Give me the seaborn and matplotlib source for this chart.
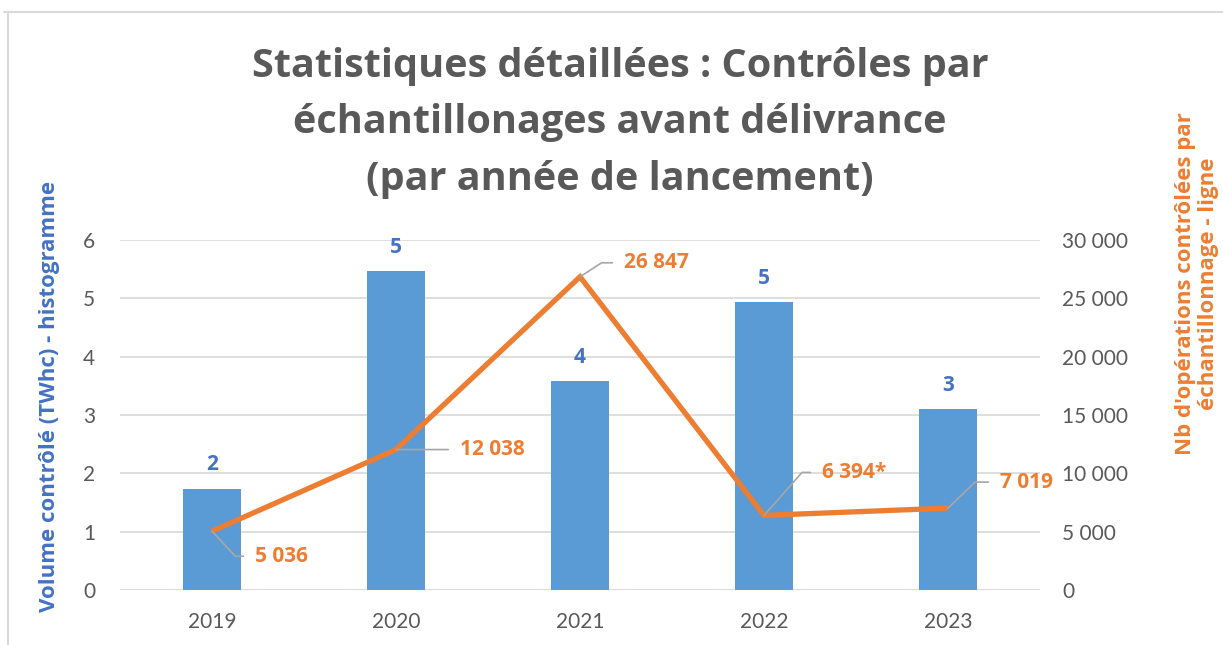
import matplotlib
matplotlib.use("Agg")
import matplotlib.pyplot as plt
from matplotlib.lines import Line2D
import seaborn as sns
import numpy as np
import pandas as pd

years = ["2019", "2020", "2021", "2022", "2023"]
volumes = [1.74, 5.47, 3.58, 4.94, 3.10]
volume_labels = ["2", "5", "4", "5", "3"]
operations = [5036, 12038, 26847, 6394, 7019]
operation_suffix = ["", "", "", "*", ""]
left_ticks = [0, 1, 2, 3, 4, 5, 6]
right_ticks = [0, 5000, 10000, 15000, 20000, 25000, 30000]

title = "Statistiques détaillées : Contrôles par\néchantillonages avant délivrance\n(par année de lancement)"
left_label = "Volume contrôlé (TWhc) - histogramme"
right_label = "Nb d'opérations contrôlées par\néchantillonnage - ligne"

BAR = "#5B9BD5"
LINE = "#ED7D31"
BLUE_TXT = "#4472C4"
GRAY = "#595959"
GRID = "#D9D9D9"

sns.set_theme(style="white")
plt.rcParams["font.family"] = ["Lato", "DejaVu Sans"]
BOLD_FONT = ["Open Sans", "DejaVu Sans"]

def fmt(v):
    return f"{v:,}".replace(",", " ")

df = pd.DataFrame({"year": years, "volume": volumes, "ops": operations})

fig = plt.figure(figsize=(12.23, 6.45), dpi=100)
ax = fig.add_axes([120 / 1223, 1 - 590 / 645, 920 / 1223, 350 / 645])

sns.barplot(data=df, x="year", y="volume", color=BAR, width=0.317, ax=ax,
            saturation=1, edgecolor="none")
ax.set_ylim(0, 6)
ax.set_xlim(-0.5, 4.5)
ax.set_yticks(left_ticks)
ax.yaxis.grid(True, color=GRID, linewidth=1.2)
ax.set_axisbelow(True)
for s in ax.spines.values():
    s.set_visible(False)
ax.tick_params(axis="y", length=0, pad=18, labelsize=15, labelcolor=GRAY)
ax.tick_params(axis="x", length=0, pad=16, labelsize=15, labelcolor=GRAY)
ax.set_xlabel("")
ax.set_ylabel("")
ax.axhline(0, color=GRID, linewidth=1.2, zorder=0.5)

for i, (v, lab) in enumerate(zip(volumes, volume_labels)):
    ax.annotate(lab, (i, v), xytext=(0, 13), textcoords="offset pixels",
                ha="center", va="bottom", color=BLUE_TXT, fontsize=15,
                fontweight="bold", family=BOLD_FONT)

ax2 = ax.twinx()
sns.lineplot(x=np.arange(len(years)), y=df["ops"], ax=ax2, color=LINE,
             linewidth=3.8)
for ln in ax2.lines:
    ln.set_solid_joinstyle("miter")
    ln.set_solid_capstyle("butt")
ax2.set_ylim(0, 30000)
ax2.set_yticks(right_ticks)
ax2.set_yticklabels([fmt(t) for t in right_ticks])
for s in ax2.spines.values():
    s.set_visible(False)
ax2.tick_params(axis="y", length=0, pad=16, labelsize=15, labelcolor=GRAY)
ax2.set_ylabel("")
ax2.grid(False)

# label offsets (pixels) and leader angles
offsets = [(43, -25), (64, 0), (44, 14), (58, 43), (52, 26)]
angles = [-47, 0, 33, 48.5, 44]
for i, (v, suf) in enumerate(zip(operations, operation_suffix)):
    dx, dy = offsets[i]
    if angles[i] == 0:
        cs = "arc3,rad=0"
    else:
        cs = f"angle,angleA=0,angleB={angles[i]},rad=0"
    ax2.annotate(fmt(v) + suf, (i, v), xytext=(dx, dy), textcoords="offset pixels",
                 ha="left", va="center", color=LINE, fontsize=15, fontweight="bold",
                 family=BOLD_FONT,
                 arrowprops=dict(arrowstyle="-", color="#A6A6A6", lw=1.2,
                                 shrinkA=6, shrinkB=0, connectionstyle=cs))

fig.text(620 / 1223, 1 - 123 / 645, title, ha="center", va="center",
         fontsize=28.5, fontweight="bold", color=GRAY, linespacing=1.58,
         family=BOLD_FONT)
fig.text(50 / 1223, 1 - 396 / 645, left_label, ha="center", va="center",
         rotation=90, fontsize=16, fontweight="bold", color=BLUE_TXT,
         family=BOLD_FONT)
fig.text(1197 / 1223, 1 - 284 / 645, right_label, ha="center", va="center",
         rotation=90, fontsize=16, fontweight="bold", color=LINE, linespacing=1.1,
         family=BOLD_FONT)

fig.add_artist(Line2D([4 / 1223, 1], [1 - 12 / 645, 1 - 12 / 645], color="#D9D9D9", lw=1.5))
fig.add_artist(Line2D([8 / 1223, 8 / 1223], [0, 1 - 12 / 645], color="#D9D9D9", lw=1.5))

fig.savefig("out.png", dpi=100)
